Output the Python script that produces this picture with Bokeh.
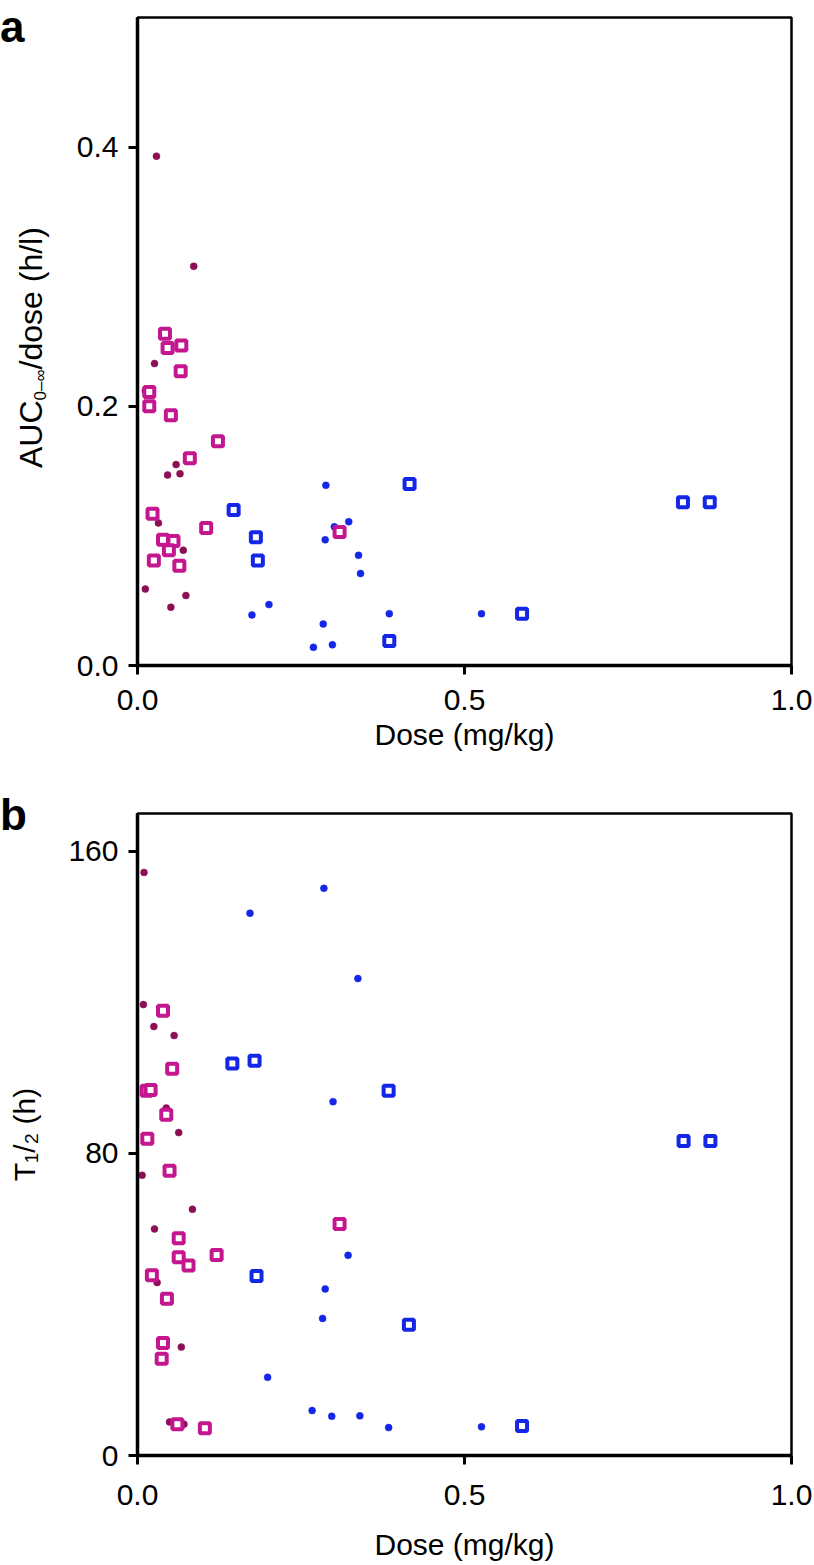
from bokeh.plotting import figure
from bokeh.layouts import column
from bokeh.models import Range1d, FixedTicker, NumeralTickFormatter, Div
from bokeh.embed import file_html
from bokeh.resources import INLINE

# ---------------- data ----------------
# panel a: AUC(0-inf)/dose (h/l) vs dose (mg/kg)
a_dot_x = [0.029, 0.086, 0.026, 0.012, 0.059, 0.046, 0.065, 0.032, 0.070, 0.012, 0.074, 0.051]
a_dot_y = [0.393, 0.308, 0.233, 0.212, 0.155, 0.147, 0.148, 0.110, 0.089, 0.059, 0.054, 0.045]
a_msq_x = [0.042, 0.046, 0.067, 0.066, 0.018, 0.018, 0.051, 0.123, 0.080, 0.023, 0.105, 0.039,
           0.055, 0.048, 0.025, 0.064, 0.309]
a_msq_y = [0.256, 0.245, 0.247, 0.227, 0.211, 0.200, 0.193, 0.173, 0.160, 0.117, 0.106, 0.097,
           0.096, 0.089, 0.081, 0.077, 0.103]
a_bdot_x = [0.288, 0.301, 0.323, 0.287, 0.338, 0.341, 0.175, 0.201, 0.284, 0.269, 0.298, 0.385, 0.526]
a_bdot_y = [0.139, 0.107, 0.111, 0.097, 0.085, 0.071, 0.039, 0.047, 0.032, 0.014, 0.016, 0.040, 0.040]
a_bsq_x = [0.147, 0.181, 0.184, 0.385, 0.416, 0.588, 0.834, 0.875]
a_bsq_y = [0.120, 0.099, 0.081, 0.019, 0.140, 0.040, 0.126, 0.126]

# panel b: T1/2 (h) vs dose (mg/kg)
b_dot_x = [0.010, 0.009, 0.025, 0.056, 0.063, 0.044, 0.007, 0.084, 0.026, 0.030, 0.067, 0.049, 0.071]
b_dot_y = [154.4, 119.4, 113.6, 111.2, 85.5, 92.0, 74.2, 65.2, 60.0, 45.8, 28.7, 8.9, 8.3]
b_msq_x = [0.039, 0.053, 0.014, 0.020, 0.044, 0.015, 0.049, 0.309, 0.063, 0.063, 0.078, 0.121,
           0.022, 0.045, 0.039, 0.037, 0.061, 0.103]
b_msq_y = [117.8, 102.4, 96.6, 96.8, 90.2, 83.9, 75.4, 61.3, 57.5, 52.5, 50.3, 53.1,
           47.7, 41.5, 29.8, 25.6, 8.3, 7.2]
b_bdot_x = [0.285, 0.172, 0.337, 0.299, 0.322, 0.287, 0.283, 0.199, 0.267, 0.297, 0.340, 0.384, 0.526]
b_bdot_y = [150.2, 143.6, 126.3, 93.7, 53.0, 44.1, 36.3, 20.7, 11.9, 10.4, 10.5, 7.4, 7.6]
b_bsq_x = [0.145, 0.179, 0.384, 0.182, 0.415, 0.588, 0.835, 0.876]
b_bsq_y = [103.8, 104.5, 96.6, 47.5, 34.6, 7.8, 83.3, 83.3]

x_ticks = [0.0, 0.5, 1.0]
a_y_ticks = [0.0, 0.2, 0.4]
b_y_ticks = [0, 80, 160]
panel_letters = ["a", "b"]
a_y_label_html = ('AUC<span style="font-size:17px;line-height:0;vertical-align:-4px">0–∞</span>'
                  '/dose (h/l)')
b_y_label = "T₁/₂ (h)"

MAROON = "#8C0F55"
MAGENTA = "#C4168E"
BLUE = "#1426E6"
FONT = "Liberation Sans"


def make_panel(width, height, y_end, y_ticks, y_fmt, y_label,
               b_left, b_top, b_right, b_bottom):
    p = figure(width=width, height=height, output_backend="svg", toolbar_location=None,
               x_range=Range1d(0, 1.0), y_range=Range1d(0, y_end),
               min_border_left=b_left, min_border_top=b_top,
               min_border_right=b_right, min_border_bottom=b_bottom)
    p.grid.visible = False
    p.outline_line_color = "black"
    p.outline_line_width = 2.5
    p.background_fill_color = "white"
    p.border_fill_color = "white"
    for ax in (p.xaxis[0], p.yaxis[0]):
        ax.axis_line_width = 3.5
        ax.axis_line_color = "black"
        ax.major_tick_line_width = 3
        ax.major_tick_line_color = "black"
        ax.major_tick_in = 0
        ax.major_tick_out = 9
        ax.minor_tick_line_color = None
        ax.major_label_text_font = FONT
        ax.major_label_text_font_size = "30px"
        ax.major_label_text_color = "black"
        ax.axis_label_text_font = FONT
        ax.axis_label_text_font_size = "30px"
        ax.axis_label_text_font_style = "normal"
        ax.axis_label_text_color = "black"
    p.xaxis.ticker = FixedTicker(ticks=x_ticks)
    p.xaxis.formatter = NumeralTickFormatter(format="0.0")
    p.xaxis.axis_label = "Dose (mg/kg)"
    p.yaxis.ticker = FixedTicker(ticks=y_ticks)
    p.yaxis.formatter = NumeralTickFormatter(format=y_fmt)
    p.yaxis.axis_label = y_label
    p.yaxis.major_label_standoff = 10
    p.yaxis.axis_label_standoff = 24
    return p


def letter_div(letter, top):
    return Div(text=letter, width=30, height=50,
               styles={"position": "absolute", "left": "0px", "top": f"{top}px",
                       "font-family": FONT, "font-size": "44px", "font-weight": "bold",
                       "line-height": "1", "color": "black", "z-index": "10",
                       "margin": "0px", "padding": "0px"})


def rotated_label_div(html, left, bottom):
    # vertical axis title (reads bottom to top), with a real subscript
    return Div(text=html, width=300, height=40,
               styles={"position": "absolute", "left": f"{left}px", "top": f"{bottom}px",
                       "transform": "rotate(-90deg)", "transform-origin": "0 0",
                       "font-family": FONT, "font-size": "32px", "font-weight": "normal",
                       "line-height": "1", "color": "black", "white-space": "nowrap",
                       "z-index": "10", "margin": "0px", "padding": "0px"})


def add_points(p, dx, dy, mx, my, bdx, bdy, bsx, bsy):
    p.scatter(dx, dy, marker="circle", size=7, fill_color=MAROON, line_color=MAROON, line_width=0.5)
    p.scatter(bdx, bdy, marker="circle", size=7, fill_color=BLUE, line_color=BLUE, line_width=0.5)
    p.scatter(mx, my, marker="square", size=10, fill_color="white", line_color=MAGENTA, line_width=4)
    p.scatter(bsx, bsy, marker="square", size=10, fill_color="white", line_color=BLUE, line_width=4)


# panel a
p1 = make_panel(814, 778, 0.5, a_y_ticks, "0.0", None,
                137, 17, 21, 113)
p1.xaxis.major_label_standoff = 15
p1.xaxis.axis_label_standoff = 5
add_points(p1, a_dot_x, a_dot_y, a_msq_x, a_msq_y, a_bdot_x, a_bdot_y, a_bsq_x, a_bsq_y)

# panel b
p2 = make_panel(814, 785, 170, b_y_ticks, "0", b_y_label,
                137, 35, 23, 105)
p2.xaxis.major_label_standoff = 20
p2.xaxis.axis_label_standoff = 20
p2.yaxis.axis_label_standoff = 24
add_points(p2, b_dot_x, b_dot_y, b_msq_x, b_msq_y, b_bdot_x, b_bdot_y, b_bsq_x, b_bsq_y)

layout = column(letter_div(panel_letters[0], 5),
                rotated_label_div(a_y_label_html, 15, 468),
                p1,
                letter_div(panel_letters[1], 793),
                p2,
                spacing=0)
open("out.html", "w").write(file_html(layout, INLINE))
